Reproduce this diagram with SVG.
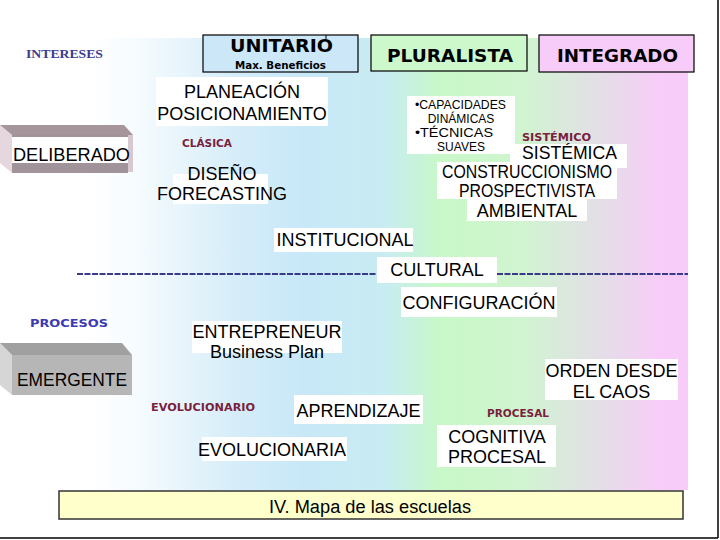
<svg xmlns="http://www.w3.org/2000/svg" width="720" height="540" viewBox="0 0 720 540">
<defs>
<linearGradient id="bg" x1="0" y1="0" x2="688" y2="0" gradientUnits="userSpaceOnUse">
<stop offset="0" stop-color="#ffffff"/>
<stop offset="0.13" stop-color="#ffffff"/>
<stop offset="0.20" stop-color="#f5fbfe"/>
<stop offset="0.27" stop-color="#e6f4fb"/>
<stop offset="0.34" stop-color="#d6edf9"/>
<stop offset="0.44" stop-color="#c8e8f8"/>
<stop offset="0.56" stop-color="#c8ecf2"/>
<stop offset="0.64" stop-color="#c8f8c8"/>
<stop offset="0.76" stop-color="#d0f4d0"/>
<stop offset="0.865" stop-color="#e2e0e6"/>
<stop offset="0.96" stop-color="#f8ccf8"/>
<stop offset="1" stop-color="#f8ccf8"/>
</linearGradient>
<style>
.t{font-family:"Liberation Sans",Arial,sans-serif;font-size:18px;fill:#000}
.s{font-family:"Liberation Sans",Arial,sans-serif;font-size:12px;fill:#000}
.h{font-family:"DejaVu Sans",Verdana,sans-serif;font-weight:bold;font-size:18.5px;fill:#000}
.m{font-family:"DejaVu Sans",Verdana,sans-serif;font-weight:bold;font-size:11px;fill:#7a1f3d}
.w{fill:#ffffff}
.hb{stroke:#000;stroke-width:1.2}
</style>
</defs>
<rect width="720" height="540" fill="#ffffff"/>
<rect x="0" y="38" width="688" height="452" fill="url(#bg)"/>
<line x1="718" y1="0" x2="718" y2="538" stroke="#000" stroke-width="1.5"/>
<line x1="0" y1="538" x2="718" y2="538" stroke="#000" stroke-width="1.5"/>

<g id="intereses"><text x="26" y="58" font-family="Liberation Serif,serif" font-weight="bold" font-size="13.4" fill="#3b3b8f" textLength="77" lengthAdjust="spacingAndGlyphs">INTERESES</text></g>

<g id="unitario">
<rect x="203" y="35" width="155" height="37" fill="#cce8f8" class="hb"/>
<line x1="326" y1="35" x2="326" y2="39" stroke="#000"/>
<text x="281.5" y="52" class="h" text-anchor="middle" textLength="103" lengthAdjust="spacingAndGlyphs">UNITARIO</text>
<text x="280.5" y="69" text-anchor="middle" font-family="DejaVu Sans,Verdana,sans-serif" font-weight="bold" font-size="10.5" textLength="91" lengthAdjust="spacingAndGlyphs">Max. Beneficios</text>
</g>
<g id="pluralista">
<rect x="371" y="35" width="156" height="36" fill="#ccf8cc" class="hb"/>
<text x="450" y="62" class="h" text-anchor="middle" textLength="126" lengthAdjust="spacingAndGlyphs">PLURALISTA</text>
</g>
<g id="integrado">
<rect x="539" y="35" width="155" height="37" fill="#f8ccf8" class="hb"/>
<text x="617.5" y="62" class="h" text-anchor="middle" textLength="121" lengthAdjust="spacingAndGlyphs">INTEGRADO</text>
</g>

<g id="deliberado">
<polygon points="0,125 12,135 12,173 0,163" fill="#e6d6de"/>
<polygon points="0,125 124,125 133,135 12,135" fill="#a6969c"/>
<rect x="12" y="135" width="116" height="38" fill="#a0949a"/>
<rect x="128" y="135" width="5" height="37" fill="#d8c8d0"/>
<rect x="12" y="137" width="116" height="26" class="w"/>
<text x="13" y="161" class="t" textLength="117" lengthAdjust="spacingAndGlyphs">DELIBERADO</text>
</g>

<g id="emergente">
<polygon points="0,343 12,355 12,395 0,385" fill="#d6d6d6"/>
<polygon points="0,343 122,343 132,355 12,355" fill="#a0a0a0"/>
<rect x="12" y="355" width="120" height="40" fill="#b6b6b6"/>
<text x="17" y="386" class="t" textLength="110" lengthAdjust="spacingAndGlyphs">EMERGENTE</text>
</g>

<g id="procesos"><text x="30" y="327" font-family="DejaVu Sans,Verdana,sans-serif" font-weight="bold" font-size="10" fill="#3b3bb0" textLength="78" lengthAdjust="spacingAndGlyphs">PROCESOS</text></g>

<g id="planeacion">
<rect x="156" y="77" width="172" height="49" class="w"/>
<text x="242" y="98" class="t" text-anchor="middle">PLANEACIÓN</text>
<text x="242" y="120" class="t" text-anchor="middle">POSICIONAMIENTO</text>
</g>
<g id="clasica"><text x="182" y="147" class="m" textLength="50" lengthAdjust="spacingAndGlyphs">CLÁSICA</text></g>
<g id="diseno">
<rect x="173" y="174" width="95" height="30" class="w"/>
<text x="222" y="180" class="t" text-anchor="middle">DISEÑO</text>
<text x="222" y="200" class="t" text-anchor="middle">FORECASTING</text>
</g>

<g id="capacidades">
<rect x="407" y="96" width="108" height="58" class="w"/>
<text x="415" y="109" class="s" textLength="91" lengthAdjust="spacingAndGlyphs">•CAPACIDADES</text>
<text x="461" y="123" class="s" text-anchor="middle">DINÁMICAS</text>
<text x="415" y="137" class="s" textLength="78" lengthAdjust="spacingAndGlyphs">•TÉCNICAS</text>
<text x="461" y="151" class="s" text-anchor="middle">SUAVES</text>
</g>
<g id="sistemico"><text x="522" y="141" class="m" textLength="69" lengthAdjust="spacingAndGlyphs">SISTÉMICO</text></g>
<g id="sistemica">
<rect x="510" y="144" width="117" height="24" class="w"/>
<rect x="437" y="162" width="180" height="37" class="w"/>
<text x="569.5" y="159" class="t" font-size="17" text-anchor="middle" textLength="95" lengthAdjust="spacingAndGlyphs">SISTÉMICA</text>
<text x="527" y="178" class="t" font-size="16" text-anchor="middle" textLength="170" lengthAdjust="spacingAndGlyphs">CONSTRUCCIONISMO</text>
<text x="527" y="197" class="t" font-size="17" text-anchor="middle" textLength="136" lengthAdjust="spacingAndGlyphs">PROSPECTIVISTA</text>
</g>
<g id="ambiental">
<rect x="467" y="199" width="120" height="22" class="w"/>
<text x="527" y="217" class="t" text-anchor="middle">AMBIENTAL</text>
</g>
<g id="institucional">
<rect x="274" y="228" width="139" height="24" class="w"/>
<text x="345" y="246" class="t" text-anchor="middle">INSTITUCIONAL</text>
</g>

<g id="divider">
<line x1="77" y1="274" x2="688" y2="274" stroke="#3a3a8a" stroke-width="2" stroke-dasharray="6 1.5"/>
</g>

<g id="cultural">
<rect x="377" y="257" width="120" height="26" class="w"/>
<text x="437" y="276" class="t" text-anchor="middle">CULTURAL</text>
</g>
<g id="configuracion">
<rect x="401" y="287" width="156" height="30" class="w"/>
<text x="479" y="309" class="t" text-anchor="middle">CONFIGURACIÓN</text>
</g>
<g id="entrepreneur">
<rect x="192" y="321" width="150" height="32" class="w"/>
<text x="267" y="338" class="t" text-anchor="middle">ENTREPRENEUR</text>
<text x="267" y="358" class="t" text-anchor="middle">Business Plan</text>
</g>
<g id="orden">
<rect x="545" y="359" width="133" height="41" class="w"/>
<text x="611.5" y="377" class="t" text-anchor="middle">ORDEN DESDE</text>
<text x="611.5" y="398" class="t" text-anchor="middle">EL CAOS</text>
</g>
<g id="evolucionario"><text x="151" y="411" class="m" textLength="104" lengthAdjust="spacingAndGlyphs">EVOLUCIONARIO</text></g>
<g id="aprendizaje">
<rect x="294" y="395" width="129" height="29" class="w"/>
<text x="358.5" y="417" class="t" text-anchor="middle">APRENDIZAJE</text>
</g>
<g id="procesal"><text x="487" y="417" class="m" textLength="62" lengthAdjust="spacingAndGlyphs">PROCESAL</text></g>
<g id="cognitiva">
<rect x="437" y="425" width="119" height="42" class="w"/>
<text x="497" y="443" class="t" text-anchor="middle">COGNITIVA</text>
<text x="497" y="463" class="t" text-anchor="middle">PROCESAL</text>
</g>
<g id="evolucionaria">
<rect x="202" y="437" width="145" height="24" class="w"/>
<text x="272" y="456" class="t" text-anchor="middle">EVOLUCIONARIA</text>
</g>

<g id="caption">
<rect x="59" y="491" width="624" height="28" fill="#ffffcc" stroke="#333" stroke-width="1.5"/>
<text x="370" y="513" class="t" font-size="19" text-anchor="middle" textLength="202" lengthAdjust="spacingAndGlyphs">IV. Mapa de las escuelas</text>
</g>
</svg>
